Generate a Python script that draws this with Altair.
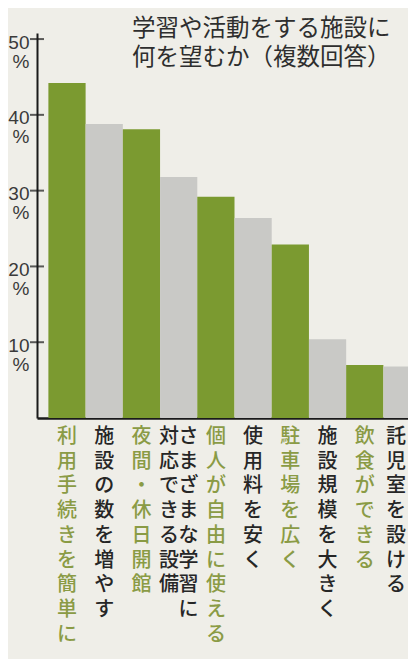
import altair as alt
import pandas as pd

categories = ["利用手続きを簡単に", "施設の数を増やす", "夜間・休日開館",
              "さまざまな学習に対応できる設備", "個人が自由に使える", "使用料を安く",
              "駐車場を広く", "施設規模を大きく", "飲食ができる", "託児室を設ける"]
values = [44.2, 38.8, 38.1, 31.8, 29.2, 26.4, 22.9, 10.4, 7.0, 6.8]
# label text split into vertical columns (right column first)
label_columns = [["利用手続きを簡単に"], ["施設の数を増やす"], ["夜間・休日開館"],
                 ["さまざまな学習に", "対応できる設備"], ["個人が自由に使える"], ["使用料を安く"],
                 ["駐車場を広く"], ["施設規模を大きく"], ["飲食ができる"], ["託児室を設ける"]]
y_ticks = [10, 20, 30, 40, 50]
title_lines = ["学習や活動をする施設に", "何を望むか（複数回答）"]

GREEN = "#7b9a30"
GRAY = "#c9c9c6"
GREEN_TEXT = "#8a9b45"
DARK_TEXT = "#262626"
BG = "#efeee8"
FONT = "Noto Sans CJK JP"
PITCH = 19.5
PLOT_W = 371  # svg ends at the window's right margin

bars_df = pd.DataFrame({
    "cat": categories,
    "value": values,
    "color": [GREEN if i % 2 == 0 else GRAY for i in range(len(categories))],
})

rows = []
for i, (cat, cols) in enumerate(zip(categories, label_columns)):
    n = len(cols)
    # the last column would be cut by the page edge: nudge it inside
    edge_shift = -6 if i == len(categories) - 1 else 0
    for j, col in enumerate(cols):
        slot = (n - 1) / 2 - j  # +: right side, -: left side
        rows.append({"cat": cat, "chars": list(col), "shift": slot * PITCH + edge_shift,
                     "color": GREEN_TEXT if i % 2 == 0 else DARK_TEXT})
labels_df = pd.DataFrame(rows)

y_axis = alt.Axis(title=None, values=y_ticks, labelExpr="[datum.label, '%']",
                  ticks=False, tickSize=0, grid=False, domainColor="#1a1a1a",
                  domainWidth=2, labelFont="Liberation Sans", labelFontSize=19,
                  labelLineHeight=19, labelColor="#3a3a3a", labelPadding=8,
                  labelOffset=3, labelBaseline="middle", labelAlign="right",
                  labelOverlap=False)
y_scale = alt.Scale(domain=[0, 50.8], nice=False, zero=True)

bars = alt.Chart(bars_df).mark_bar(stroke=None).encode(
    x=alt.X("cat:N", sort=categories,
            scale=alt.Scale(range=[0, 395], paddingInner=0, paddingOuter=0.306),
            axis=alt.Axis(title=None, labels=False, ticks=False, domainColor="#1a1a1a",
                          domainWidth=2.5, grid=False)),
    y=alt.Y("value:Q", scale=y_scale, axis=y_axis),
    color=alt.Color("color:N", scale=None),
)

ticks = alt.Chart(pd.DataFrame({"value": y_ticks})).mark_tick(
    orient="horizontal", size=14, thickness=2, color="#1a1a1a"
).encode(
    x=alt.value(0),
    y=alt.Y("value:Q", scale=y_scale, axis=y_axis),
)

label_layers = []
for shift in sorted(set(labels_df["shift"])):
    sub = labels_df[labels_df["shift"] == shift]
    label_layers.append(
        alt.Chart(sub).mark_text(
            font=FONT, fontSize=20, lineHeight=24.7, align="center", baseline="top",
            dx=float(shift), fontWeight=500
        ).encode(
            x=alt.X("cat:N", sort=categories),
            y=alt.value(394),
            text=alt.Text("chars:N"),
            color=alt.Color("color:N", scale=None),
        )
    )

title = alt.Chart(pd.DataFrame({"t": [title_lines]})).mark_text(
    font=FONT, fontSize=23.5, lineHeight=29, align="left", baseline="top", color="#2e2e2e"
).encode(
    x=alt.value(95),
    y=alt.value(-16),
    text=alt.Text("t:N"),
)

chart = alt.layer(bars, ticks, *label_layers, title).properties(
    width=PLOT_W, height=385,
    padding={"left": 29, "top": 25, "right": 0, "bottom": 241},
    autosize="none",
    background=BG,
).configure_view(stroke=None)

chart.save("out.html", embed_options={"renderer": "svg", "actions": False})
